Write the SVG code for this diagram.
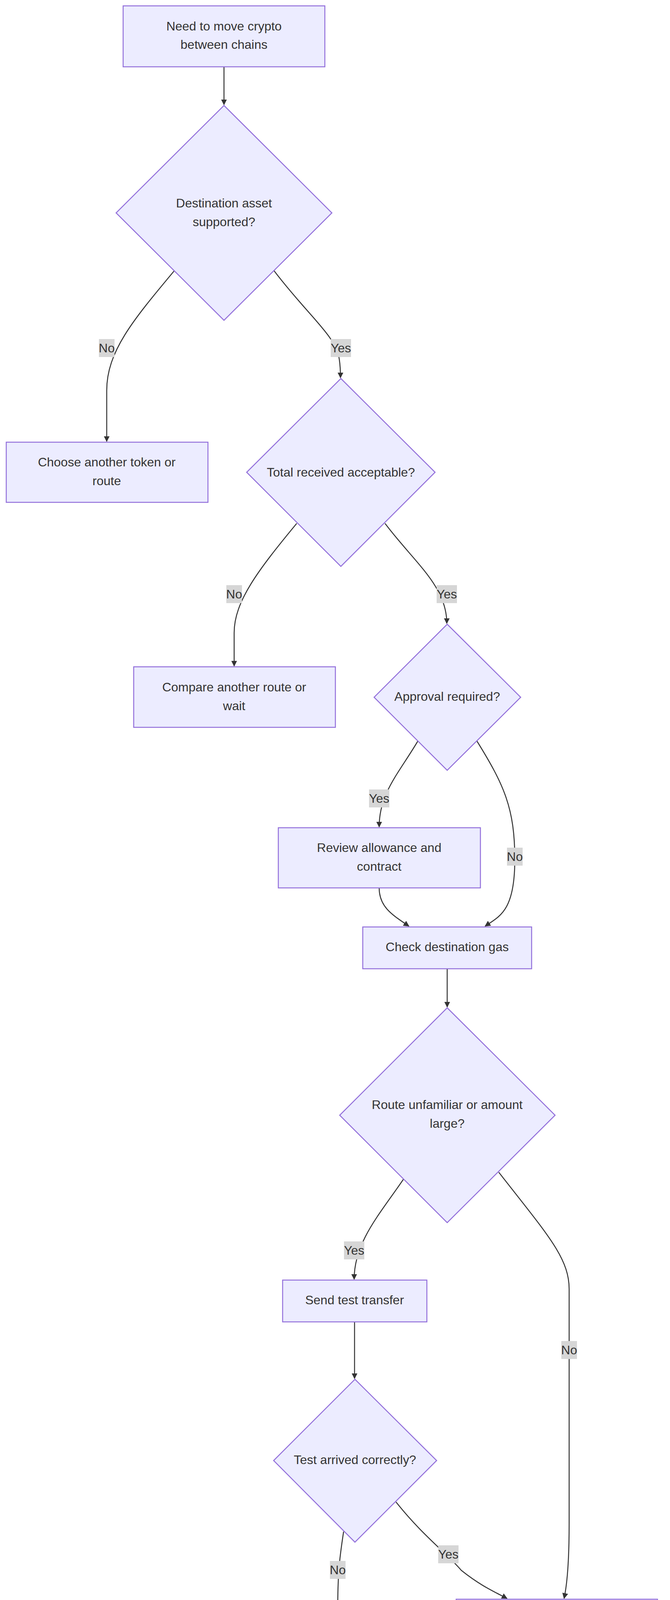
<svg xmlns="http://www.w3.org/2000/svg" width="1714" height="4304" viewBox="0 0 1714 4304">
<style>
.n{fill:#ECECFF;stroke:#9370DB;stroke-width:2.5}
.t{font-family:"Liberation Sans",Arial,sans-serif;font-size:32px;fill:#333;text-anchor:middle;dominant-baseline:central}
.e{fill:none;stroke:#333;stroke-width:2.5}
.lb{fill:#d6d6d6}
</style>
<defs><marker id="a" viewBox="0 0 10 10" refX="9" refY="5" markerWidth="6" markerHeight="6" orient="auto"><path d="M0,0L10,5L0,10z" fill="#333"/></marker></defs>
<g id="edges">
<path class="e" marker-end="url(#a)" d="M573,171L573,268"/>
<path class="e" marker-end="url(#a)" d="M446,693C340,820 273,900 273,1000L273,1130"/>
<path class="e" marker-end="url(#a)" d="M701,693C790,810 860,860 868,920Q871,940 871,967"/>
<path class="e" marker-end="url(#a)" d="M759,1340C660,1460 599,1540 599,1620L599,1705"/>
<path class="e" marker-end="url(#a)" d="M985,1340C1060,1440 1143,1500 1143,1596"/>
<path class="e" marker-end="url(#a)" d="M1069,1897C1020,1980 970,2030 970,2117"/>
<path class="e" marker-end="url(#a)" d="M1220,1897C1290,2010 1317,2070 1317,2200C1317,2330 1280,2345 1241,2371"/>
<path class="e" marker-end="url(#a)" d="M970,2273C970,2320 1000,2340 1046,2371"/>
<path class="e" marker-end="url(#a)" d="M1144,2480L1144,2578"/>
<path class="e" marker-end="url(#a)" d="M1032,3019C970,3110 906,3180 906,3275"/>
<path class="e" marker-end="url(#a)" d="M1276,3001C1400,3160 1456,3220 1456,3300L1456,3900C1456,4000 1450,4060 1443,4092"/>
<path class="e" marker-end="url(#a)" d="M907,3384L907,3529"/>
<path class="e" marker-end="url(#a)" d="M879,3921C870,3980 864,4020 864,4117"/>
<path class="e" marker-end="url(#a)" d="M1013,3845C1080,3930 1147,3980 1180,4020C1230,4060 1265,4075 1297,4092"/>
<g>
<rect class="lb" x="253" y="868" width="40" height="46"/><text class="t" x="273" y="891">No</text>
<rect class="lb" x="846" y="868" width="52" height="46"/><text class="t" x="872" y="891">Yes</text>
<rect class="lb" x="579" y="1498" width="40" height="46"/><text class="t" x="599" y="1521">No</text>
<rect class="lb" x="1117" y="1498" width="52" height="46"/><text class="t" x="1143" y="1521">Yes</text>
<rect class="lb" x="944" y="2021" width="52" height="46"/><text class="t" x="970" y="2044">Yes</text>
<rect class="lb" x="1297" y="2170" width="40" height="46"/><text class="t" x="1317" y="2193">No</text>
<rect class="lb" x="880" y="3178" width="52" height="46"/><text class="t" x="906" y="3201">Yes</text>
<rect class="lb" x="1436" y="3433" width="40" height="46"/><text class="t" x="1456" y="3456">No</text>
<rect class="lb" x="844" y="3996" width="40" height="46"/><text class="t" x="864" y="4019">No</text>
<rect class="lb" x="1121" y="3956" width="52" height="46"/><text class="t" x="1147" y="3979">Yes</text>
</g>
</g>
<g id="start"><rect class="n" x="315" y="15" width="516" height="156"/><text class="t" x="573" y="67">Need to move crypto</text><text class="t" x="573" y="114">between chains</text></g>
<g id="d1"><polygon class="n" points="573,270 849,545 573,820 297,545"/><text class="t" x="573" y="520">Destination asset</text><text class="t" x="573" y="568">supported?</text></g>
<g id="choose"><rect class="n" x="16" y="1132" width="516" height="154"/><text class="t" x="273" y="1183">Choose another token or</text><text class="t" x="273" y="1231">route</text></g>
<g id="d2"><polygon class="n" points="872,969 1113,1209 872,1450 631,1209"/><text class="t" x="872" y="1209">Total received acceptable?</text></g>
<g id="compare"><rect class="n" x="342" y="1707" width="516" height="155"/><text class="t" x="599" y="1759">Compare another route or</text><text class="t" x="599" y="1807">wait</text></g>
<g id="d3"><polygon class="n" points="1144,1598 1332,1785 1144,1972 957,1785"/><text class="t" x="1144" y="1783">Approval required?</text></g>
<g id="review"><rect class="n" x="712" y="2119" width="517" height="154"/><text class="t" x="970" y="2170">Review allowance and</text><text class="t" x="970" y="2218">contract</text></g>
<g id="gas"><rect class="n" x="928" y="2373" width="432" height="107"/><text class="t" x="1144" y="2424">Check destination gas</text></g>
<g id="d4"><polygon class="n" points="1144,2580 1420,2855 1144,3130 869,2855"/><text class="t" x="1144" y="2828">Route unfamiliar or amount</text><text class="t" x="1144" y="2876">large?</text></g>
<g id="send"><rect class="n" x="723" y="3277" width="369" height="107"/><text class="t" x="907" y="3328">Send test transfer</text></g>
<g id="d5"><polygon class="n" points="908,3531 1117,3739 908,3948 700,3739"/><text class="t" x="908" y="3737">Test arrived correctly?</text></g>
<g id="stop"><rect class="n" x="661" y="4119" width="407" height="106"/><text class="t" x="864" y="4170">Stop and investigate</text></g>
<g id="proceed"><rect class="n" x="1167" y="4094" width="515" height="155"/><text class="t" x="1424" y="4146">Proceed if warnings are</text><text class="t" x="1424" y="4193">clear</text></g>
</svg>
